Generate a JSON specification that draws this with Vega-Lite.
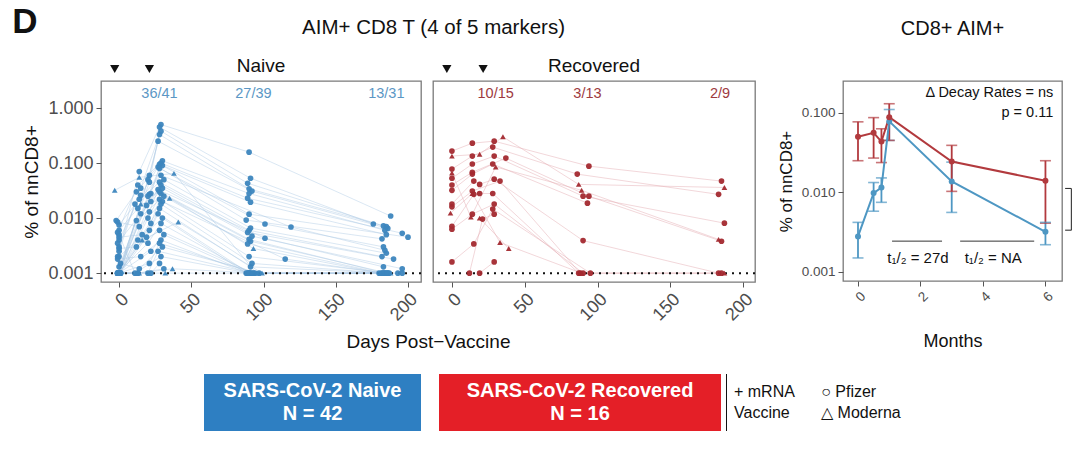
{
"$schema": "https://vega.github.io/schema/vega-lite/v6.json",
"padding": {"left": 12, "top": 4, "right": 5, "bottom": 5},
"config": {
  "font": "Liberation Sans",
  "view": {"stroke": "#7a7a7a", "strokeWidth": 1.3},
  "axis": {"grid": false, "domain": false, "tickColor": "#555555", "tickSize": 5, "labelColor": "#4d4d4d", "titleColor": "#111111", "titleFontWeight": "normal", "labelPadding": 3},
  "title": {"fontWeight": "normal", "color": "#111111"}
},
"title": {"text": "D", "anchor": "start", "fontSize": 35, "fontWeight": "bold", "offset": -22, "dx": -10, "color": "#111111"},
"datasets": {
  "naive": [
    {"i":1,"s":"P","d":-1,"v":0.001},{"i":1,"s":"P","d":21,"v":0.045},{"i":1,"s":"P","d":29,"v":0.5},{"i":1,"s":"P","d":90,"v":0.158},{"i":1,"s":"P","d":188,"v":0.0109},
    {"i":2,"s":"P","d":-1,"v":0.002},{"i":2,"s":"P","d":14,"v":0.07},{"i":2,"s":"P","d":28,"v":0.45},{"i":2,"s":"P","d":91,"v":0.053},{"i":2,"s":"P","d":176,"v":0.0078},
    {"i":3,"s":"P","d":0,"v":0.001},{"i":3,"s":"P","d":21,"v":0.06},{"i":3,"s":"P","d":29,"v":0.38},{"i":3,"s":"P","d":89,"v":0.043},{"i":3,"s":"P","d":183,"v":0.0072},
    {"i":4,"s":"P","d":0,"v":0.003},{"i":4,"s":"P","d":15,"v":0.035},{"i":4,"s":"P","d":28,"v":0.33},{"i":4,"s":"P","d":90,"v":0.034},{"i":4,"s":"P","d":185,"v":0.007},
    {"i":5,"s":"P","d":1,"v":0.001},{"i":5,"s":"P","d":20,"v":0.05},{"i":5,"s":"P","d":27,"v":0.25},{"i":5,"s":"P","d":92,"v":0.031},{"i":5,"s":"P","d":186,"v":0.0065},
    {"i":6,"s":"P","d":-1,"v":0.0055},{"i":6,"s":"P","d":13,"v":0.04},{"i":6,"s":"P","d":30,"v":0.11},{"i":6,"s":"P","d":90,"v":0.028},{"i":6,"s":"P","d":184,"v":0.006},
    {"i":7,"s":"P","d":0,"v":0.001},{"i":7,"s":"P","d":22,"v":0.028},{"i":7,"s":"P","d":29,"v":0.1},{"i":7,"s":"P","d":89,"v":0.023},{"i":7,"s":"P","d":196,"v":0.0053},
    {"i":8,"s":"P","d":-2,"v":0.009},{"i":8,"s":"P","d":12,"v":0.03},{"i":8,"s":"P","d":28,"v":0.095},{"i":8,"s":"P","d":91,"v":0.0195},{"i":8,"s":"P","d":185,"v":0.005},
    {"i":9,"s":"P","d":0,"v":0.001},{"i":9,"s":"P","d":21,"v":0.027},{"i":9,"s":"P","d":30,"v":0.09},{"i":9,"s":"P","d":90,"v":0.0118},{"i":9,"s":"P","d":200,"v":0.0045},
    {"i":10,"s":"P","d":0,"v":0.004},{"i":10,"s":"P","d":15,"v":0.026},{"i":10,"s":"P","d":27,"v":0.085},{"i":10,"s":"P","d":88,"v":0.0092},{"i":10,"s":"P","d":182,"v":0.0042},
    {"i":11,"s":"P","d":-1,"v":0.001},{"i":11,"s":"P","d":20,"v":0.025},{"i":11,"s":"P","d":28,"v":0.08},{"i":11,"s":"P","d":101,"v":0.0078},{"i":11,"s":"P","d":183,"v":0.003},
    {"i":12,"s":"P","d":0,"v":0.0075},{"i":12,"s":"P","d":14,"v":0.022},{"i":12,"s":"P","d":29,"v":0.06},{"i":12,"s":"P","d":119,"v":0.0069},{"i":12,"s":"P","d":184,"v":0.0026},
    {"i":13,"s":"P","d":1,"v":0.001},{"i":13,"s":"P","d":22,"v":0.02},{"i":13,"s":"P","d":31,"v":0.05},{"i":13,"s":"P","d":91,"v":0.0066},{"i":13,"s":"P","d":185,"v":0.0023},
    {"i":14,"s":"P","d":0,"v":0.0025},{"i":14,"s":"P","d":11,"v":0.018},{"i":14,"s":"P","d":28,"v":0.045},{"i":14,"s":"P","d":90,"v":0.006},{"i":14,"s":"P","d":182,"v":0.002},
    {"i":15,"s":"P","d":-1,"v":0.001},{"i":15,"s":"P","d":19,"v":0.017},{"i":15,"s":"P","d":29,"v":0.04},{"i":15,"s":"P","d":89,"v":0.0055},{"i":15,"s":"P","d":190,"v":0.0018},
    {"i":16,"s":"P","d":0,"v":0.006},{"i":16,"s":"P","d":13,"v":0.015},{"i":16,"s":"P","d":30,"v":0.035},{"i":16,"s":"P","d":92,"v":0.0047},{"i":16,"s":"P","d":196,"v":0.0012},
    {"i":17,"s":"P","d":0,"v":0.001},{"i":17,"s":"P","d":21,"v":0.013},{"i":17,"s":"P","d":27,"v":0.033},{"i":17,"s":"P","d":101,"v":0.0043},{"i":17,"s":"P","d":183,"v":0.0013},
    {"i":18,"s":"P","d":-1,"v":0.0035},{"i":18,"s":"P","d":15,"v":0.012},{"i":18,"s":"P","d":28,"v":0.03},{"i":18,"s":"P","d":90,"v":0.0041},{"i":18,"s":"P","d":184,"v":0.001},
    {"i":19,"s":"P","d":1,"v":0.001},{"i":19,"s":"P","d":20,"v":0.01},{"i":19,"s":"P","d":29,"v":0.028},{"i":19,"s":"P","d":91,"v":0.0038},{"i":19,"s":"P","d":186,"v":0.001},
    {"i":20,"s":"P","d":0,"v":0.0013},{"i":20,"s":"P","d":12,"v":0.009},{"i":20,"s":"P","d":31,"v":0.025},{"i":20,"s":"P","d":89,"v":0.0034},{"i":20,"s":"P","d":182,"v":0.001},
    {"i":21,"s":"P","d":0,"v":0.001},{"i":21,"s":"P","d":22,"v":0.008},{"i":21,"s":"P","d":28,"v":0.022},{"i":21,"s":"P","d":90,"v":0.002},{"i":21,"s":"P","d":185,"v":0.001},
    {"i":22,"s":"P","d":-1,"v":0.0085},{"i":22,"s":"P","d":14,"v":0.007},{"i":22,"s":"P","d":30,"v":0.02},{"i":22,"s":"P","d":115,"v":0.0018},{"i":22,"s":"P","d":183,"v":0.001},
    {"i":23,"s":"P","d":0,"v":0.001},{"i":23,"s":"P","d":21,"v":0.006},{"i":23,"s":"P","d":29,"v":0.018},{"i":23,"s":"P","d":92,"v":0.0015},{"i":23,"s":"P","d":184,"v":0.001},
    {"i":24,"s":"P","d":0,"v":0.0045},{"i":24,"s":"P","d":16,"v":0.005},{"i":24,"s":"P","d":28,"v":0.015},{"i":24,"s":"P","d":91,"v":0.0013},{"i":24,"s":"P","d":187,"v":0.001},
    {"i":25,"s":"P","d":1,"v":0.001},{"i":25,"s":"P","d":19,"v":0.0045},{"i":25,"s":"P","d":27,"v":0.012},{"i":25,"s":"P","d":90,"v":0.001},{"i":25,"s":"P","d":196,"v":0.001},
    {"i":26,"s":"P","d":0,"v":0.002},{"i":26,"s":"P","d":13,"v":0.004},{"i":26,"s":"P","d":30,"v":0.01},{"i":26,"s":"P","d":88,"v":0.001},{"i":26,"s":"P","d":186,"v":0.001},
    {"i":27,"s":"P","d":-1,"v":0.001},{"i":27,"s":"P","d":20,"v":0.0035},{"i":27,"s":"P","d":29,"v":0.008},{"i":27,"s":"P","d":91,"v":0.001},{"i":27,"s":"P","d":182,"v":0.001},
    {"i":28,"s":"P","d":0,"v":0.0028},{"i":28,"s":"P","d":12,"v":0.003},{"i":28,"s":"P","d":28,"v":0.006},{"i":28,"s":"P","d":93,"v":0.001},{"i":28,"s":"P","d":180,"v":0.001},
    {"i":29,"s":"P","d":0,"v":0.001},{"i":29,"s":"P","d":22,"v":0.0025},{"i":29,"s":"P","d":31,"v":0.005},{"i":29,"s":"P","d":90,"v":0.001},{"i":29,"s":"P","d":193,"v":0.001},
    {"i":30,"s":"P","d":-1,"v":0.0018},{"i":30,"s":"P","d":15,"v":0.002},{"i":30,"s":"P","d":29,"v":0.004},{"i":30,"s":"P","d":89,"v":0.001},
    {"i":31,"s":"P","d":0,"v":0.001},{"i":31,"s":"P","d":21,"v":0.0015},{"i":31,"s":"P","d":28,"v":0.0035},{"i":31,"s":"P","d":94,"v":0.001},
    {"i":32,"s":"P","d":1,"v":0.0015},{"i":32,"s":"P","d":14,"v":0.0012},{"i":32,"s":"P","d":30,"v":0.003},{"i":32,"s":"P","d":97,"v":0.001},
    {"i":33,"s":"P","d":0,"v":0.001},{"i":33,"s":"P","d":20,"v":0.001},{"i":33,"s":"P","d":27,"v":0.0025},{"i":33,"s":"P","d":92,"v":0.001},
    {"i":34,"s":"P","d":0,"v":0.005},{"i":34,"s":"P","d":11,"v":0.001},{"i":34,"s":"P","d":29,"v":0.002},{"i":34,"s":"P","d":90,"v":0.001},
    {"i":35,"s":"P","d":-1,"v":0.001},{"i":35,"s":"P","d":22,"v":0.001},{"i":35,"s":"P","d":28,"v":0.0015},
    {"i":36,"s":"P","d":0,"v":0.001},{"i":36,"s":"P","d":13,"v":0.001},{"i":36,"s":"P","d":31,"v":0.0012},
    {"i":37,"s":"M","d":-3,"v":0.032},{"i":37,"s":"M","d":14,"v":0.055},{"i":37,"s":"M","d":38,"v":0.065},{"i":37,"s":"M","d":95,"v":0.001},{"i":37,"s":"M","d":188,"v":0.001},
    {"i":38,"s":"M","d":0,"v":0.001},{"i":38,"s":"M","d":15,"v":0.018},{"i":38,"s":"M","d":35,"v":0.023},{"i":38,"s":"M","d":93,"v":0.0028},{"i":38,"s":"M","d":181,"v":0.001},
    {"i":39,"s":"M","d":0,"v":0.001},{"i":39,"s":"M","d":16,"v":0.004},{"i":39,"s":"M","d":41,"v":0.0085},{"i":39,"s":"M","d":99,"v":0.001},
    {"i":40,"s":"M","d":-1,"v":0.001},{"i":40,"s":"M","d":13,"v":0.001},{"i":40,"s":"M","d":37,"v":0.0012},{"i":40,"s":"M","d":96,"v":0.001},
    {"i":41,"s":"M","d":0,"v":0.001},{"i":41,"s":"M","d":14,"v":0.001},{"i":41,"s":"M","d":32,"v":0.001},{"i":41,"s":"M","d":92,"v":0.001},
    {"i":42,"s":"M","d":0,"v":0.001},{"i":42,"s":"M","d":12,"v":0.001}
  ],
  "recov": [
    {"i":1,"s":"P","d":0,"v":0.165},{"i":1,"s":"P","d":14,"v":0.23},{"i":1,"s":"P","d":29,"v":0.25},{"i":1,"s":"P","d":94,"v":0.088},{"i":1,"s":"P","d":185,"v":0.047},
    {"i":2,"s":"M","d":0,"v":0.134},{"i":2,"s":"M","d":19,"v":0.145},{"i":2,"s":"M","d":35,"v":0.3},{"i":2,"s":"M","d":87,"v":0.041},{"i":2,"s":"M","d":187,"v":0.036},
    {"i":3,"s":"P","d":0,"v":0.078},{"i":3,"s":"P","d":14,"v":0.134},{"i":3,"s":"P","d":28,"v":0.195},{"i":3,"s":"P","d":86,"v":0.063},{"i":3,"s":"P","d":183,"v":0.027},
    {"i":4,"s":"M","d":0,"v":0.066},{"i":4,"s":"M","d":13,"v":0.0104},{"i":4,"s":"M","d":30,"v":0.085},{"i":4,"s":"M","d":89,"v":0.032},{"i":4,"s":"M","d":183,"v":0.0041},
    {"i":5,"s":"P","d":0,"v":0.053},{"i":5,"s":"P","d":14,"v":0.096},{"i":5,"s":"P","d":29,"v":0.134},{"i":5,"s":"P","d":90,"v":0.025},{"i":5,"s":"P","d":187,"v":0.0081},
    {"i":6,"s":"P","d":0,"v":0.04},{"i":6,"s":"P","d":14,"v":0.068},{"i":6,"s":"P","d":37,"v":0.123},{"i":6,"s":"P","d":94,"v":0.025},{"i":6,"s":"P","d":185,"v":0.0038},
    {"i":7,"s":"P","d":0,"v":0.032},{"i":7,"s":"P","d":14,"v":0.063},{"i":7,"s":"P","d":28,"v":0.096},{"i":7,"s":"P","d":93,"v":0.0187},
    {"i":8,"s":"P","d":0,"v":0.018},{"i":8,"s":"P","d":15,"v":0.047},{"i":8,"s":"P","d":19,"v":0.041},{"i":8,"s":"P","d":29,"v":0.051},{"i":8,"s":"P","d":90,"v":0.0039},{"i":8,"s":"P","d":183,"v":0.001},
    {"i":9,"s":"P","d":0,"v":0.016},{"i":9,"s":"P","d":14,"v":0.031},{"i":9,"s":"P","d":33,"v":0.047},{"i":9,"s":"P","d":88,"v":0.001},{"i":9,"s":"P","d":185,"v":0.001},
    {"i":10,"s":"M","d":-1,"v":0.0123},{"i":10,"s":"M","d":14,"v":0.028},{"i":10,"s":"M","d":33,"v":0.0036},{"i":10,"s":"M","d":89,"v":0.001},{"i":10,"s":"M","d":187,"v":0.001},
    {"i":11,"s":"P","d":0,"v":0.0071},{"i":11,"s":"P","d":15,"v":0.027},{"i":11,"s":"P","d":19,"v":0.028},{"i":11,"s":"P","d":28,"v":0.028},{"i":11,"s":"P","d":87,"v":0.001},
    {"i":12,"s":"P","d":0,"v":0.0063},{"i":12,"s":"P","d":14,"v":0.0118},{"i":12,"s":"P","d":29,"v":0.018},{"i":12,"s":"P","d":90,"v":0.001},
    {"i":13,"s":"P","d":0,"v":0.0016},{"i":13,"s":"P","d":15,"v":0.0034},{"i":13,"s":"P","d":28,"v":0.0146},{"i":13,"s":"P","d":95,"v":0.001},
    {"i":14,"s":"M","d":19,"v":0.01},{"i":14,"s":"M","d":39,"v":0.0028},
    {"i":15,"s":"P","d":12,"v":0.001},{"i":15,"s":"P","d":21,"v":0.0096},{"i":15,"s":"P","d":29,"v":0.0118},
    {"i":16,"s":"P","d":19,"v":0.001},{"i":16,"s":"P","d":29,"v":0.0016}
  ],
  "months": [
    {"g":"N","m":0,"v":0.0028,"lo":0.0015,"hi":0.0042},
    {"g":"N","m":0.5,"v":0.0098,"lo":0.0058,"hi":0.0133},
    {"g":"N","m":0.75,"v":0.0115,"lo":0.0075,"hi":0.0152},
    {"g":"N","m":1,"v":0.078,"lo":0.045,"hi":0.11},
    {"g":"N","m":3,"v":0.0137,"lo":0.0056,"hi":0.024},
    {"g":"N","m":6,"v":0.0032,"lo":0.0022,"hi":0.0042},
    {"g":"R","m":0,"v":0.05,"lo":0.025,"hi":0.077},
    {"g":"R","m":0.5,"v":0.056,"lo":0.027,"hi":0.087},
    {"g":"R","m":0.75,"v":0.0435,"lo":0.0237,"hi":0.063},
    {"g":"R","m":1,"v":0.088,"lo":0.045,"hi":0.13},
    {"g":"R","m":3,"v":0.0244,"lo":0.0103,"hi":0.039},
    {"g":"R","m":6,"v":0.014,"lo":0.0041,"hi":0.025}
  ]
},
"vconcat": [
  {
    "hconcat": [
      {
        "title": {"text": "Days Post−Vaccine", "orient": "bottom", "anchor": "middle", "fontSize": 19, "offset": 8, "dx": 39},
        "vconcat": [
          {
            "title": {"text": "AIM+ CD8 T (4 of 5 markers)", "anchor": "middle", "fontSize": 20.5, "offset": 18, "dx": 44},
            "spacing": 8,
            "hconcat": [
              {
                "width": 320, "height": 201,
                "title": {"text": "Naive", "fontSize": 19, "offset": -11, "frame": "group"},
                "layer": [
                  {"data": {"name": "naive"},
                   "mark": {"type": "line", "color": "#a9c9e3", "strokeWidth": 0.8, "opacity": 0.55},
                   "encoding": {
                     "x": {"field": "d", "type": "quantitative", "scale": {"domain": [-12.5, 209], "nice": false},
                           "axis": {"values": [0, 50, 100, 150, 200], "labelAngle": -45, "labelFontSize": 18, "title": null}},
                     "y": {"field": "v", "type": "quantitative", "scale": {"type": "log", "domain": [0.00069, 3.1], "nice": false},
                           "axis": {"values": [0.001, 0.01, 0.1, 1], "format": ".3f", "labelFontSize": 18, "title": "% of nnCD8+", "titleFontSize": 19, "titlePadding": 6}},
                     "detail": {"field": "i", "type": "nominal"},
                     "order": {"field": "d", "type": "quantitative"}
                   }},
                  {"data": {"values": [{}]},
                   "mark": {"type": "rule", "color": "#111111", "strokeWidth": 2, "strokeDash": [2, 5]},
                   "encoding": {"y": {"datum": 0.001}}},
                  {"data": {"name": "naive"},
                   "mark": {"type": "point", "filled": true, "size": 32, "opacity": 0.95, "color": "#3d86be"},
                   "encoding": {
                     "x": {"field": "d", "type": "quantitative"},
                     "y": {"field": "v", "type": "quantitative"},
                     "shape": {"field": "s", "type": "nominal", "scale": {"domain": ["P", "M"], "range": ["circle", "triangle-up"]}, "legend": null}
                   }},
                  {"data": {"values": [{"d": 28, "t": "36/41"}, {"d": 93, "t": "27/39"}, {"d": 185, "t": "13/31"}]},
                   "mark": {"type": "text", "fontSize": 14.5, "color": "#5b97c5"},
                   "encoding": {"x": {"field": "d", "type": "quantitative"}, "y": {"datum": 1.8}, "text": {"field": "t", "type": "nominal"}}},
                  {"data": {"values": [{"d": -3}, {"d": 21}]},
                   "mark": {"type": "point", "shape": "triangle-down", "filled": true, "size": 85, "color": "#111111", "opacity": 1, "clip": false},
                   "encoding": {"x": {"field": "d", "type": "quantitative"}, "y": {"datum": 5.1}}}
                ]
              },
              {
                "width": 322, "height": 201,
                "title": {"text": "Recovered", "fontSize": 19, "offset": -11, "frame": "group"},
                "layer": [
                  {"data": {"name": "recov"},
                   "mark": {"type": "line", "color": "#e3abb0", "strokeWidth": 0.8, "opacity": 0.6},
                   "encoding": {
                     "x": {"field": "d", "type": "quantitative", "scale": {"domain": [-13, 208], "nice": false},
                           "axis": {"values": [0, 50, 100, 150, 200], "labelAngle": -45, "labelFontSize": 18, "title": null}},
                     "y": {"field": "v", "type": "quantitative", "scale": {"type": "log", "domain": [0.00069, 3.1], "nice": false}, "axis": null},
                     "detail": {"field": "i", "type": "nominal"},
                     "order": {"field": "d", "type": "quantitative"}
                   }},
                  {"data": {"values": [{}]},
                   "mark": {"type": "rule", "color": "#111111", "strokeWidth": 2, "strokeDash": [2, 5]},
                   "encoding": {"y": {"datum": 0.001}}},
                  {"data": {"name": "recov"},
                   "mark": {"type": "point", "filled": true, "size": 32, "opacity": 0.95, "color": "#a3292f"},
                   "encoding": {
                     "x": {"field": "d", "type": "quantitative"},
                     "y": {"field": "v", "type": "quantitative"},
                     "shape": {"field": "s", "type": "nominal", "scale": {"domain": ["P", "M"], "range": ["circle", "triangle-up"]}, "legend": null}
                   }},
                  {"data": {"values": [{"d": 30, "t": "10/15"}, {"d": 93, "t": "3/13"}, {"d": 184, "t": "2/9"}]},
                   "mark": {"type": "text", "fontSize": 14.5, "color": "#9e3a3e"},
                   "encoding": {"x": {"field": "d", "type": "quantitative"}, "y": {"datum": 1.8}, "text": {"field": "t", "type": "nominal"}}},
                  {"data": {"values": [{"d": -3.5}, {"d": 21.4}]},
                   "mark": {"type": "point", "shape": "triangle-down", "filled": true, "size": 85, "color": "#111111", "opacity": 1, "clip": false},
                   "encoding": {"x": {"field": "d", "type": "quantitative"}, "y": {"datum": 5.1}}}
                ]
              }
            ]
          }
        ]
      },
      {
        "width": 219, "height": 200,
        "title": {"text": "CD8+ AIM+", "fontSize": 20, "offset": 42, "frame": "group"},
        "layer": [
          {"data": {"name": "months"},
           "mark": {"type": "rule", "strokeWidth": 1.8},
           "encoding": {
             "x": {"field": "m", "type": "quantitative", "scale": {"domain": [-0.48, 6.53], "nice": false},
                   "axis": {"values": [0, 2, 4, 6], "labelAngle": -45, "labelFontSize": 13.5, "title": "Months", "titleFontSize": 18, "titlePadding": 29}},
             "y": {"field": "lo", "type": "quantitative", "scale": {"type": "log", "domain": [0.00077, 0.251], "nice": false},
                   "axis": {"values": [0.001, 0.01, 0.1], "format": ".3f", "labelFontSize": 13.5, "title": "% of nnCD8+", "titleFontSize": 17, "titlePadding": 6}},
             "y2": {"field": "hi"},
             "color": {"field": "g", "type": "nominal", "scale": {"domain": ["N", "R"], "range": ["#4e97c3", "#b23a3e"]}, "legend": null}
           }},
          {"data": {"name": "months"},
           "mark": {"type": "tick", "orient": "horizontal", "size": 11, "thickness": 1.6},
           "encoding": {"x": {"field": "m", "type": "quantitative"}, "y": {"field": "lo", "type": "quantitative"}, "color": {"field": "g", "type": "nominal", "legend": null}}},
          {"data": {"name": "months"},
           "mark": {"type": "tick", "orient": "horizontal", "size": 11, "thickness": 1.6},
           "encoding": {"x": {"field": "m", "type": "quantitative"}, "y": {"field": "hi", "type": "quantitative"}, "color": {"field": "g", "type": "nominal", "legend": null}}},
          {"data": {"name": "months"},
           "mark": {"type": "line", "strokeWidth": 2},
           "encoding": {"x": {"field": "m", "type": "quantitative"}, "y": {"field": "v", "type": "quantitative"}, "color": {"field": "g", "type": "nominal", "legend": null}}},
          {"data": {"name": "months"},
           "mark": {"type": "point", "filled": true, "size": 36, "opacity": 1},
           "encoding": {"x": {"field": "m", "type": "quantitative"}, "y": {"field": "v", "type": "quantitative"}, "color": {"field": "g", "type": "nominal", "legend": null}}},
          {"data": {"values": [{"a": 1.09, "b": 2.69}, {"a": 3.27, "b": 5.64}]},
           "mark": {"type": "rule", "color": "#333333", "strokeWidth": 1},
           "encoding": {"x": {"field": "a", "type": "quantitative"}, "x2": {"field": "b"}, "y": {"datum": 0.00244}}},
          {"data": {"values": [{"m": 1.92, "t": "t₁/₂ = 27d"}, {"m": 4.33, "t": "t₁/₂ = NA"}]},
           "mark": {"type": "text", "fontSize": 15, "color": "#111111"},
           "encoding": {"x": {"field": "m", "type": "quantitative"}, "y": {"datum": 0.0015}, "text": {"field": "t", "type": "nominal"}}},
          {"data": {"values": [{"t": "Δ Decay Rates = ns"}]},
           "mark": {"type": "text", "fontSize": 14.5, "align": "right", "color": "#111111"},
           "encoding": {"x": {"datum": 6.25}, "y": {"datum": 0.176}, "text": {"field": "t", "type": "nominal"}}},
          {"data": {"values": [{"t": "p = 0.11"}]},
           "mark": {"type": "text", "fontSize": 14.5, "align": "right", "color": "#111111"},
           "encoding": {"x": {"datum": 6.25}, "y": {"datum": 0.1}, "text": {"field": "t", "type": "nominal"}}},
          {"data": {"values": [{"a": 6.83, "b": 6.83, "p": 0.00335, "q": 0.0112}, {"a": 6.63, "b": 6.83, "p": 0.0112, "q": 0.0112}, {"a": 6.63, "b": 6.83, "p": 0.00335, "q": 0.00335}]},
           "mark": {"type": "rule", "color": "#333333", "strokeWidth": 1.1, "clip": false},
           "encoding": {"x": {"field": "a", "type": "quantitative"}, "x2": {"field": "b"}, "y": {"field": "p", "type": "quantitative"}, "y2": {"field": "q"}}}
        ]
      }
    ],
    "spacing": 19
  },
  {
    "hconcat": [
      {"width": 85, "height": 57, "view": {"stroke": null}, "data": {"values": []}, "mark": "point"},
      {"width": 217, "height": 57, "view": {"fill": "#2e7fc2", "stroke": null},
       "data": {"values": [{"t": "SARS-CoV-2 Naive\nN = 42"}]},
       "mark": {"type": "text", "lineBreak": "\n", "fontSize": 20, "fontWeight": "bold", "color": "#ffffff", "lineHeight": 23, "dy": -11.5},
       "encoding": {"text": {"field": "t", "type": "nominal"}}},
      {
        "hconcat": [
          {"width": 282, "height": 57, "view": {"fill": "#e41f27", "stroke": null},
           "data": {"values": [{"t": "SARS-CoV-2 Recovered\nN = 16"}]},
           "mark": {"type": "text", "lineBreak": "\n", "fontSize": 20, "fontWeight": "bold", "color": "#ffffff", "lineHeight": 23, "dy": -11.5},
           "encoding": {"text": {"field": "t", "type": "nominal"}}},
          {
            "hconcat": [
              {"width": 1, "height": 57, "view": {"fill": "#111111", "stroke": null}, "data": {"values": []}, "mark": "point"},
              {"width": 190, "height": 57, "view": {"stroke": null},
               "data": {"values": [{"c": 0, "t": "+ mRNA\nVaccine"}, {"c": 1, "t": "○ Pfizer\n△ Moderna"}]},
               "mark": {"type": "text", "align": "left", "lineBreak": "\n", "fontSize": 16, "lineHeight": 21, "color": "#111111", "dy": -10.5},
               "encoding": {"x": {"field": "c", "type": "quantitative", "scale": {"domain": [0, 2.18]}, "axis": null}, "text": {"field": "t", "type": "nominal"}}}
            ],
            "spacing": 7
          }
        ],
        "spacing": 5
      }
    ],
    "spacing": 18
  }
],
"spacing": 22
}
